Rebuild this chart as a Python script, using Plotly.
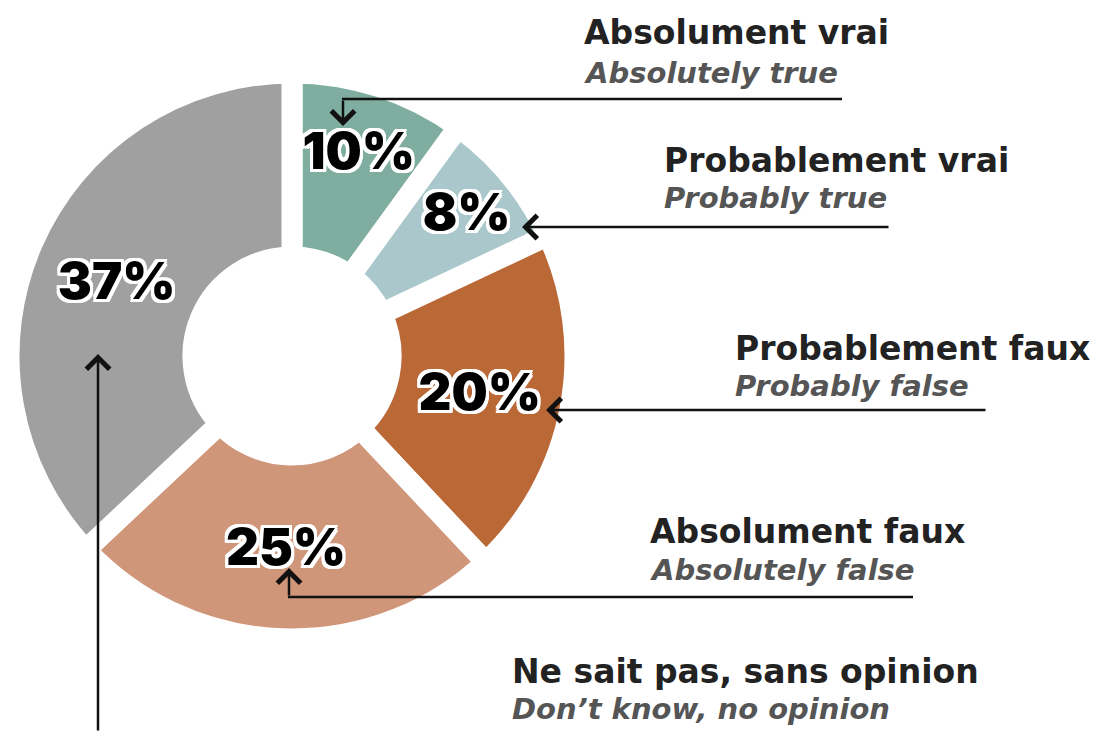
import plotly.graph_objects as go

# ---- data ----
labels_fr = ["Absolument vrai", "Probablement vrai", "Probablement faux",
             "Absolument faux", "Ne sait pas, sans opinion"]
labels_en = ["Absolutely true", "Probably true", "Probably false",
             "Absolutely false", "Don\u2019t know, no opinion"]
values = [10, 8, 20, 25, 37]
colors = ["#7faea0", "#aac8cc", "#bb6837", "#cf967a", "#a0a0a0"]

W, H = 1114, 732


def px(x):
    return x / W


def py(y):
    return 1 - y / H


# pie geometry (pixels)
cx, cy, R = 292, 356, 283

outline = ", ".join(f"white {dx}px {dy}px 0px" for dx, dy in
                    [(-3, -3), (3, -3), (-3, 3), (3, 3), (0, 3), (0, -3), (3, 0), (-3, 0),
                     (-2, 3), (2, 3), (-2, -3), (2, -3), (3, 2), (3, -2), (-3, 2), (-3, -2)])

fig = go.Figure()
fig.add_trace(go.Pie(
    values=values,
    labels=labels_fr,
    sort=False,
    direction="clockwise",
    rotation=0,
    hole=0.35,
    marker=dict(colors=colors, line=dict(color="white", width=21)),
    texttemplate="%{value}%",
    textposition="inside",
    insidetextorientation="horizontal",
    textfont=dict(family="Inter", size=51, color="#000000", weight=900, shadow=outline),
    hoverinfo="none",
    showlegend=False,
    domain=dict(x=[px(cx - R), px(cx + R)], y=[py(cy + R), py(cy - R)]),
))

# label texts: (left x, title center y, subtitle center y)
label_pos = [(582, 32, 73), (662, 160, 198), (733, 348, 386), (648, 531, 570), (510, 671, 709)]
annotations = []
for (lx, ty, sy), fr, en in zip(label_pos, labels_fr, labels_en):
    annotations.append(dict(x=px(lx), y=py(ty), xref="paper", yref="paper", text=fr,
                            showarrow=False, xanchor="left", yanchor="middle",
                            font=dict(family="DejaVu Sans", size=33, color="#222222", weight=700)))
    annotations.append(dict(x=px(lx), y=py(sy), xref="paper", yref="paper", text=en,
                            showarrow=False, xanchor="left", yanchor="middle",
                            font=dict(family="DejaVu Sans", size=29, color="#555555", weight=700,
                                      style="italic")))

# leader lines: arrow segments (tip, tail) in pixels
arrows = [((343, 126), (343, 99)),
          ((522, 227), (890, 227)),
          ((546, 410), (987, 410)),
          ((289, 568), (289, 597)),
          ((98, 354), (98, 740))]
for (tx, ty), (sx, sy) in arrows:
    annotations.append(dict(x=px(tx), y=py(ty), xref="paper", yref="paper", text="",
                            showarrow=True, ax=sx - tx, ay=sy - ty,
                            arrowhead=4, arrowsize=1.8, arrowwidth=2.5, arrowcolor="#111111",
                            standoff=0, startstandoff=0))

shapes = [
    dict(type="line", xref="paper", yref="paper", x0=px(342), y0=py(99), x1=px(842), y1=py(99),
         line=dict(color="#111111", width=2.5)),
    dict(type="line", xref="paper", yref="paper", x0=px(288), y0=py(597), x1=px(913), y1=py(597),
         line=dict(color="#111111", width=2.5)),
]

fig.update_layout(
    width=W, height=H, autosize=False,
    margin=dict(l=0, r=0, t=0, b=0),
    paper_bgcolor="white", plot_bgcolor="white",
    annotations=annotations, shapes=shapes,
)

fig.write_html("out.html", config={"displayModeBar": False},
               post_script="document.body.style.margin='0px';")
